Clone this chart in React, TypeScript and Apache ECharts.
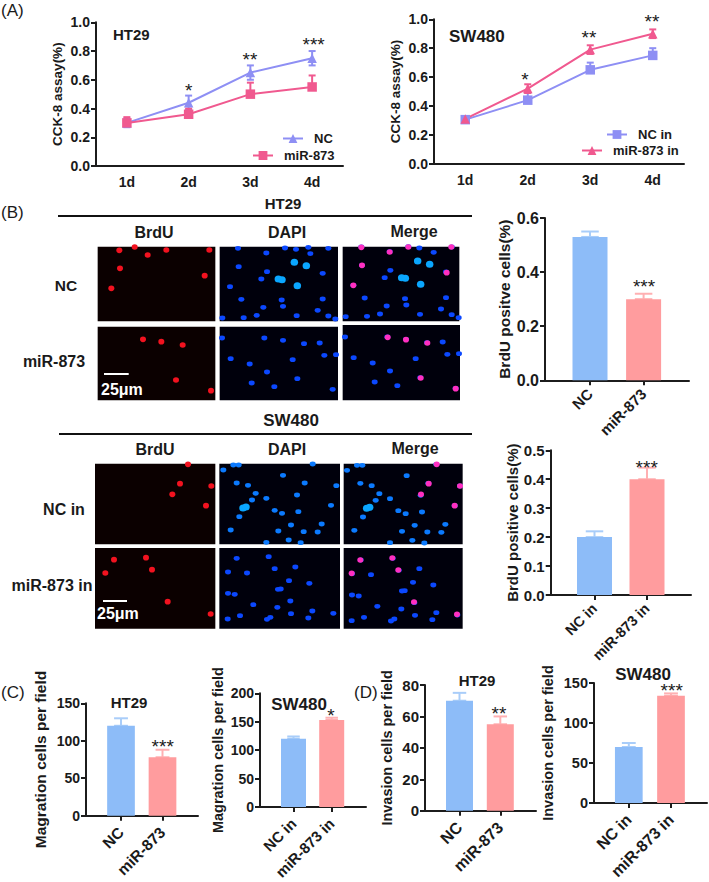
import React, { useEffect, useRef } from "react";
import * as echarts from "echarts";

type Dot = number[];

// ---------- panel A data ----------
const days = ["1d", "2d", "3d", "4d"];
const a1Nc = [0.3, 0.44, 0.65, 0.75];
const a1NcErr = [0.03, 0.05, 0.05, 0.05];
const a1Mir = [0.3, 0.36, 0.5, 0.55];
const a1MirErr = [0.04, 0.04, 0.08, 0.08];
const a2Nc = [0.305, 0.44, 0.65, 0.75];
const a2NcErr = [0.02, 0.05, 0.05, 0.05];
const a2Mir = [0.31, 0.52, 0.79, 0.9];
const a2MirErr = [0.02, 0.03, 0.03, 0.03];

// ---------- bar data: value and upper error end ----------
const namesHt = ["NC", "miR-873"];
const namesSw = ["NC in", "miR-873 in"];
const b1Vals = [0.53, 0.3];
const b1Tops = [0.55, 0.32];
const b2Vals = [0.2, 0.4];
const b2Tops = [0.22, 0.44];
const c1Vals = [120, 78];
const c1Tops = [130, 88];
const c2Vals = [120, 153];
const c2Tops = [124, 157];
const d1Vals = [70, 55];
const d1Tops = [75, 60];
const d2Vals = [70, 134];
const d2Tops = [75, 137];

// ---------- micrograph nuclei ----------
const htNcRed: Dot[] = [[358, 181], [404, 171], [443, 195], [499, 180], [628, 180], [360, 235], [614, 257], [334, 295]];
const htNcBlue: Dot[] = [[714, 175], [799, 189], [855, 174], [888, 178], [931, 191], [925, 172], [985, 175], [716, 230], [801, 245], [968, 250], [784, 267], [690, 290], [724, 328], [845, 330], [968, 327], [790, 352], [849, 349], [953, 361], [890, 377], [770, 376], [731, 383], [667, 384], [985, 378], [1006, 387]];
const htNcBright: Dot[] = [[883, 217], [919, 227], [892, 287], [835, 267], [846, 269]];
const htMirRed: Dot[] = [[429, 448], [484, 455], [548, 465], [528, 570], [633, 602]];
const htMirBlue: Dot[] = [[666, 444], [793, 444], [849, 451], [912, 461], [959, 459], [973, 496], [1008, 494], [692, 506], [749, 522], [878, 509], [801, 546], [892, 566], [755, 579], [823, 590], [998, 598]];
const swNcRed: Dot[] = [[564, 163], [540, 221], [634, 228], [517, 253], [618, 287]];
const swNcBlue: Dot[] = [[670, 180], [700, 165], [716, 165], [849, 196], [938, 162], [710, 219], [744, 226], [914, 219], [1009, 227], [767, 250], [756, 270], [799, 265], [891, 255], [824, 301], [846, 310], [895, 305], [993, 286], [718, 320], [873, 345], [965, 342], [835, 363], [911, 365], [953, 366], [692, 360], [866, 390], [902, 398], [799, 397]];
const swNcBright: Dot[] = [[729, 294], [738, 291]];
const swMirRed: Dot[] = [[342, 449], [438, 443], [456, 479], [316, 489], [503, 575], [632, 612]];
const swMirBlue: Dot[] = [[710, 445], [806, 440], [824, 476], [886, 471], [684, 486], [741, 489], [867, 512], [928, 520], [834, 538], [842, 537], [684, 550], [704, 553], [871, 573], [760, 584], [832, 592], [937, 603], [1000, 610], [683, 627], [720, 617], [873, 611], [925, 624], [801, 628], [811, 622]];

const AXIS = "#1c1c1c";
const TXT = "#1a1a1a";
const FONT = "'Liberation Sans', Arial, sans-serif";
const BLUE = "#8dbcf8";
const PINK = "#ff9c9e";
const BLUE_E = "#a9cdf9";
const PINK_E = "#ffb0b2";
const L_PURPLE = "#8e8ff4";
const L_PINK = "#f0598f";

const grids: any[] = [];
const xAxes: any[] = [];
const yAxes: any[] = [];
const series: any[] = [];
const legends: any[] = [];
const graphics: any[] = [];

function yAxisOf(i: number, max: number, step: number, title: string, gap: number, fs: number, tfs: number, dec: number) {
  return {
    type: "value", gridIndex: i, min: 0, max, interval: step,
    name: title, nameLocation: "middle", nameGap: gap,
    nameTextStyle: { fontFamily: FONT, fontWeight: "bold", fontSize: tfs, color: TXT },
    axisLine: { show: true, onZero: false, lineStyle: { color: AXIS, width: 2 } },
    axisTick: { show: true, length: 5, lineStyle: { color: AXIS, width: 2 } },
    axisLabel: { margin: 6, fontFamily: FONT, fontWeight: "bold", fontSize: fs, color: TXT, formatter: (v: number) => v.toFixed(dec) },
    splitLine: { show: false },
  };
}

function errSeries(i: number, rows: number[][], color: string, capHalf: number, z: number) {
  return {
    type: "custom", coordinateSystem: "cartesian2d", xAxisIndex: i, yAxisIndex: i, z, silent: true, clip: false,
    encode: { x: 0, y: [1, 2] },
    data: rows,
    renderItem: (_p: any, api: any) => {
      const x = api.value(0);
      const a = api.coord([x, api.value(1)]);
      const b = api.coord([x, api.value(2)]);
      const s = { stroke: color, lineWidth: 2 };
      const line = (x1: number, y1: number, x2: number, y2: number) => ({ type: "line", shape: { x1, y1, x2, y2 }, style: s });
      return { type: "group", children: [line(a[0], a[1], b[0], b[1]), line(b[0] - capHalf, b[1], b[0] + capHalf, b[1]), line(a[0] - capHalf, a[1], a[0] + capHalf, a[1])] };
    },
  };
}

function lineChart(cfg: any) {
  const i = grids.length;
  grids.push({ left: cfg.left, top: cfg.top, width: cfg.right - cfg.left, height: cfg.bottom - cfg.top });
  xAxes.push({
    type: "category", gridIndex: i, data: days,
    axisLine: { onZero: false, lineStyle: { color: AXIS, width: 2 } },
    axisTick: { length: 5, alignWithLabel: true, lineStyle: { color: AXIS, width: 2 } },
    axisLabel: { margin: 9, fontFamily: FONT, fontWeight: "bold", fontSize: 14, color: TXT },
    splitLine: { show: false },
  });
  yAxes.push(yAxisOf(i, 1, 0.2, "CCK-8 assay(%)", cfg.gap, 14, 13.5, 1));
  cfg.lines.forEach((l: any) => {
    series.push(errSeries(i, l.vals.map((v: number, k: number) => [k, l.upperOnly ? v : v - l.errs[k], v + l.errs[k]]), l.color, 3.5, 3));
    series.push({
      type: "line", name: l.name, xAxisIndex: i, yAxisIndex: i, data: l.vals, z: 4,
      symbol: l.symbol, symbolSize: 9.5, showSymbol: true,
      lineStyle: { color: l.color, width: 2 }, itemStyle: { color: l.color },
    });
    legends.push({
      data: [l.name], left: l.lx, top: l.ly - 8, orient: "vertical", itemWidth: 20, itemHeight: 11, padding: 0,
      textStyle: { fontFamily: FONT, fontWeight: "bold", fontSize: 13, color: TXT, padding: [0, 0, 0, l.tp] },
    });
  });
}

function barChart(cfg: any) {
  const i = grids.length;
  const [c1, c2] = cfg.centers;
  const s = c2 - c1;
  grids.push({ left: cfg.left, top: cfg.top, width: cfg.right - cfg.left, height: cfg.bottom - cfg.top });
  xAxes.push({
    type: "value", gridIndex: i, min: 1 - (c1 - cfg.left) / s, max: 2 + (cfg.right - c2) / s,
    axisLine: { onZero: false, lineStyle: { color: AXIS, width: 2 } },
    axisTick: { length: 5, customValues: [1, 2], lineStyle: { color: AXIS, width: 2 } },
    axisLabel: {
      customValues: [1, 2], rotate: 45, margin: cfg.lm, showMinLabel: true, showMaxLabel: true,
      fontFamily: FONT, fontWeight: "bold", fontSize: cfg.lfs, color: TXT,
      formatter: (v: number) => cfg.names[Math.round(v) - 1],
    },
    splitLine: { show: false },
  });
  yAxes.push(yAxisOf(i, cfg.max, cfg.step, cfg.title, cfg.gap, cfg.fs, cfg.tfs, cfg.dec));
  series.push({
    type: "bar", xAxisIndex: i, yAxisIndex: i, barWidth: cfg.barW, z: 3,
    data: cfg.vals.map((v: number, k: number) => ({ value: [k + 1, v], itemStyle: { color: k ? PINK : BLUE } })),
  });
  cfg.vals.forEach((v: number, k: number) => {
    series.push(errSeries(i, [[k + 1, v, cfg.tops[k]]], k ? PINK_E : BLUE_E, cfg.barW / 4, 2));
  });
}

const toGrid = (d: Dot[], dx = 0, dy = 0) => d.map((p) => [p[0] + dx, p[1] + dy]);
const OVAL = "path://M0 1A1 1 0 1 1 2 1A1 1 0 1 1 0 1Z";

function photo(box: number[], oy: number, bg: string, layers: any[]) {
  const i = grids.length;
  const [x0, y0, x1, y1] = box;
  grids.push({ show: true, backgroundColor: bg, borderWidth: 0, left: x0 / 3, top: oy + y0 / 3, width: (x1 - x0) / 3, height: (y1 - y0) / 3 });
  xAxes.push({ type: "value", gridIndex: i, min: x0, max: x1, show: false, splitLine: { show: false } });
  yAxes.push({ type: "value", gridIndex: i, min: y0, max: y1, inverse: true, show: false, splitLine: { show: false } });
  layers.forEach((l) => {
    series.push({
      type: "scatter", xAxisIndex: i, yAxisIndex: i, data: l.dots, symbol: OVAL, symbolSize: l.size, clip: true, z: 5, silent: true,
      itemStyle: { color: l.color, opacity: 1 },
    });
  });
}

function text(str: string, x: number, y: number, fs: number, opts: any = {}) {
  graphics.push({
    type: "text", x, y, silent: true, z: 20,
    style: {
      text: str, fontFamily: FONT, fontSize: fs, fontWeight: opts.weight ?? "bold", fill: opts.fill ?? TXT,
      textAlign: opts.align ?? "center", textVerticalAlign: "middle", align: opts.align ?? "center", verticalAlign: "middle",
    },
  });
}
const rule = (x1: number, x2: number, y: number, color: string, w: number) =>
  graphics.push({ type: "line", silent: true, z: 20, shape: { x1, y1: y, x2, y2: y }, style: { stroke: color, lineWidth: w } });

// ---------- build ----------
lineChart({
  left: 96, right: 343, top: 22.3, bottom: 166, gap: 32,
  lines: [
    { name: "NC", vals: a1Nc, errs: a1NcErr, color: L_PURPLE, symbol: "triangle", lx: 282, ly: 140, tp: 6 },
    { name: "miR-873", vals: a1Mir, errs: a1MirErr, color: L_PINK, symbol: "rect", lx: 252, ly: 157, tp: 6, upperOnly: true },
  ],
});
lineChart({
  left: 434, right: 684, top: 19.3, bottom: 163.7, gap: 32,
  lines: [
    { name: "NC in", vals: a2Nc, errs: a2NcErr, color: L_PURPLE, symbol: "rect", lx: 606, ly: 136, tp: 6, upperOnly: true },
    { name: "miR-873 in", vals: a2Mir, errs: a2MirErr, color: L_PINK, symbol: "triangle", lx: 581, ly: 152, tp: 6 },
  ],
});
barChart({ left: 545, right: 689, top: 218, bottom: 380.3, centers: [590, 643.6], barW: 35, names: namesHt, vals: b1Vals, tops: b1Tops, max: 0.6, step: 0.2, dec: 1, title: "BrdU positve cells(%)", gap: 31, fs: 16, tfs: 15.5, lfs: 15, lm: 11 });
barChart({ left: 550.7, right: 691, top: 450.3, bottom: 595, centers: [594.5, 647], barW: 35, names: namesSw, vals: b2Vals, tops: b2Tops, max: 0.5, step: 0.1, dec: 1, title: "BrdU positive cells(%)", gap: 31, fs: 15, tfs: 15, lfs: 14.5, lm: 11 });
barChart({ left: 86, right: 198, top: 703.3, bottom: 815.7, centers: [121, 162.5], barW: 27.7, names: namesHt, vals: c1Vals, tops: c1Tops, max: 150, step: 50, dec: 0, title: "Magration cells per field", gap: 38, fs: 14, tfs: 15.5, lfs: 15.5, lm: 14 });
barChart({ left: 260, right: 366, top: 693.3, bottom: 814.3, centers: [293.5, 331.7], barW: 25, names: namesSw, vals: c2Vals, tops: c2Tops, max: 200, step: 50, dec: 0, title: "Magration cells per field", gap: 35, fs: 14, tfs: 14.5, lfs: 15, lm: 14 });
barChart({ left: 425, right: 536, top: 685, bottom: 810.7, centers: [459.5, 500.3], barW: 27, names: namesHt, vals: d1Vals, tops: d1Tops, max: 80, step: 20, dec: 0, title: "Invasion cells per field", gap: 31, fs: 15, tfs: 14.5, lfs: 16, lm: 14 });
barChart({ left: 594, right: 707, top: 683, bottom: 810, centers: [628.8, 671], barW: 27.7, names: namesSw, vals: d2Vals, tops: d2Tops, max: 150, step: 50, dec: 0, title: "Invasion cells per field", gap: 39, fs: 14.5, tfs: 14.5, lfs: 16, lm: 14 });

const RED = "#f2121f";
const MAG = "#ff2fc0";
const BL = "#0b48ff";
const BL2 = "#0b7aff";
const CY = "#0aa6ff";
const RBG = "#0b0000";
const BBG = "#00000c";
const N: number[] = [6, 4.8];
const R: number[] = [6, 5.6];
const B: number[] = [7.5, 7];

photo([293, 170, 646, 394], 190, RBG, [{ dots: htNcRed, color: RED, size: R }]);
photo([659, 170, 1014, 394], 190, BBG, [{ dots: htNcBlue, color: BL, size: N }, { dots: htNcBright, color: CY, size: B }]);
photo([1028, 170, 1378, 394], 190, BBG, [{ dots: toGrid(htNcBlue, 370, -4), color: BL, size: N }, { dots: toGrid(htNcBright, 370, -4), color: CY, size: B }, { dots: toGrid(htNcRed, 726, -9), color: MAG, size: R }]);
photo([293, 410, 646, 631], 190, RBG, [{ dots: htMirRed, color: RED, size: R }]);
photo([659, 410, 1014, 631], 190, BBG, [{ dots: htMirBlue, color: BL, size: N }]);
photo([1028, 405, 1380, 631], 190, BBG, [{ dots: toGrid(htMirBlue, 369, -3), color: BL, size: N }, { dots: toGrid(htMirRed, 734, -6), color: MAG, size: R }]);

photo([285, 161, 646, 403], 410, RBG, [{ dots: swNcRed, color: RED, size: R }]);
photo([658, 161, 1020, 403], 410, BBG, [{ dots: swNcBlue, color: BL2, size: N }, { dots: swNcBright, color: CY, size: B }]);
photo([1031, 161, 1388, 403], 410, BBG, [{ dots: toGrid(swNcBlue, 371, 1), color: BL2, size: N }, { dots: toGrid(swNcBright, 371, 1), color: CY, size: B }, { dots: toGrid(swNcRed, 746, 0), color: MAG, size: R }]);
photo([285, 414, 646, 656], 410, RBG, [{ dots: swMirRed, color: RED, size: R }]);
photo([658, 414, 1020, 656], 410, BBG, [{ dots: swMirBlue, color: BL, size: N }]);
photo([1031, 414, 1388, 656], 410, BBG, [{ dots: toGrid(swMirBlue, 372, 5), color: BL, size: N }, { dots: toGrid(swMirRed, 739, 1), color: MAG, size: R }]);

// panel letters
text("(A)", 1, 10, 17, { weight: "normal", align: "left" });
text("(B)", 1, 212, 17, { weight: "normal", align: "left" });
text("(C)", 1, 692, 17, { weight: "normal", align: "left" });
text("(D)", 354, 692, 17, { weight: "normal", align: "left" });
// chart titles
text("HT29", 113, 34, 15, { align: "left" });
text("SW480", 449, 36, 17, { align: "left" });
text("HT29", 129, 702, 15);
text("SW480", 299, 704, 17);
text("HT29", 477, 680, 15);
text("SW480", 643, 674, 17);
// significance marks
const star = (s: string, x: number, y: number) => text(s, x, y + 3.5, 19, { weight: "normal" });
star("*", 188.7, 87); star("**", 250, 56); star("***", 313.6, 41);
star("*", 525, 76); star("**", 589, 34); star("**", 652, 18);
star("***", 644, 283); star("***", 646.7, 464);
star("***", 162.7, 743); star("*", 331, 712);
star("**", 499, 710); star("***", 671.7, 687);
// HT29 block of panel B
text("HT29", 283, 203, 15);
rule(58, 472, 216, "#111", 2);
text("BrdU", 154, 232, 16); text("DAPI", 287, 232, 16); text("Merge", 414, 231, 16);
text("NC", 66, 285, 15.5); text("miR-873", 54, 361, 16);
rule(104, 128.7, 374, "#fff", 2);
text("25μm", 101, 389, 16, { fill: "#fff", align: "left" });
// SW480 block of panel B
text("SW480", 291, 420, 17);
rule(59, 472, 434, "#111", 2);
text("BrdU", 155, 449, 16); text("DAPI", 287, 449, 16); text("Merge", 415, 448, 16);
text("NC in", 64, 509, 16); text("miR-873 in", 52, 585, 16);
rule(103, 127, 601, "#fff", 2);
text("25μm", 97, 613, 16, { fill: "#fff", align: "left" });

export default function App() {
  const ref = useRef<HTMLDivElement>(null);
  useEffect(() => {
    const chart = echarts.init(ref.current!, undefined, { renderer: "svg" });
    chart.setOption({
      animation: false,
      backgroundColor: "#ffffff",
      grid: grids,
      xAxis: xAxes,
      yAxis: yAxes,
      series,
      legend: legends,
      graphic: graphics,
    });
    return () => chart.dispose();
  }, []);
  return <div ref={ref} style={{ position: "absolute", left: 0, top: 0, width: 709, height: 882 }} />;
}
